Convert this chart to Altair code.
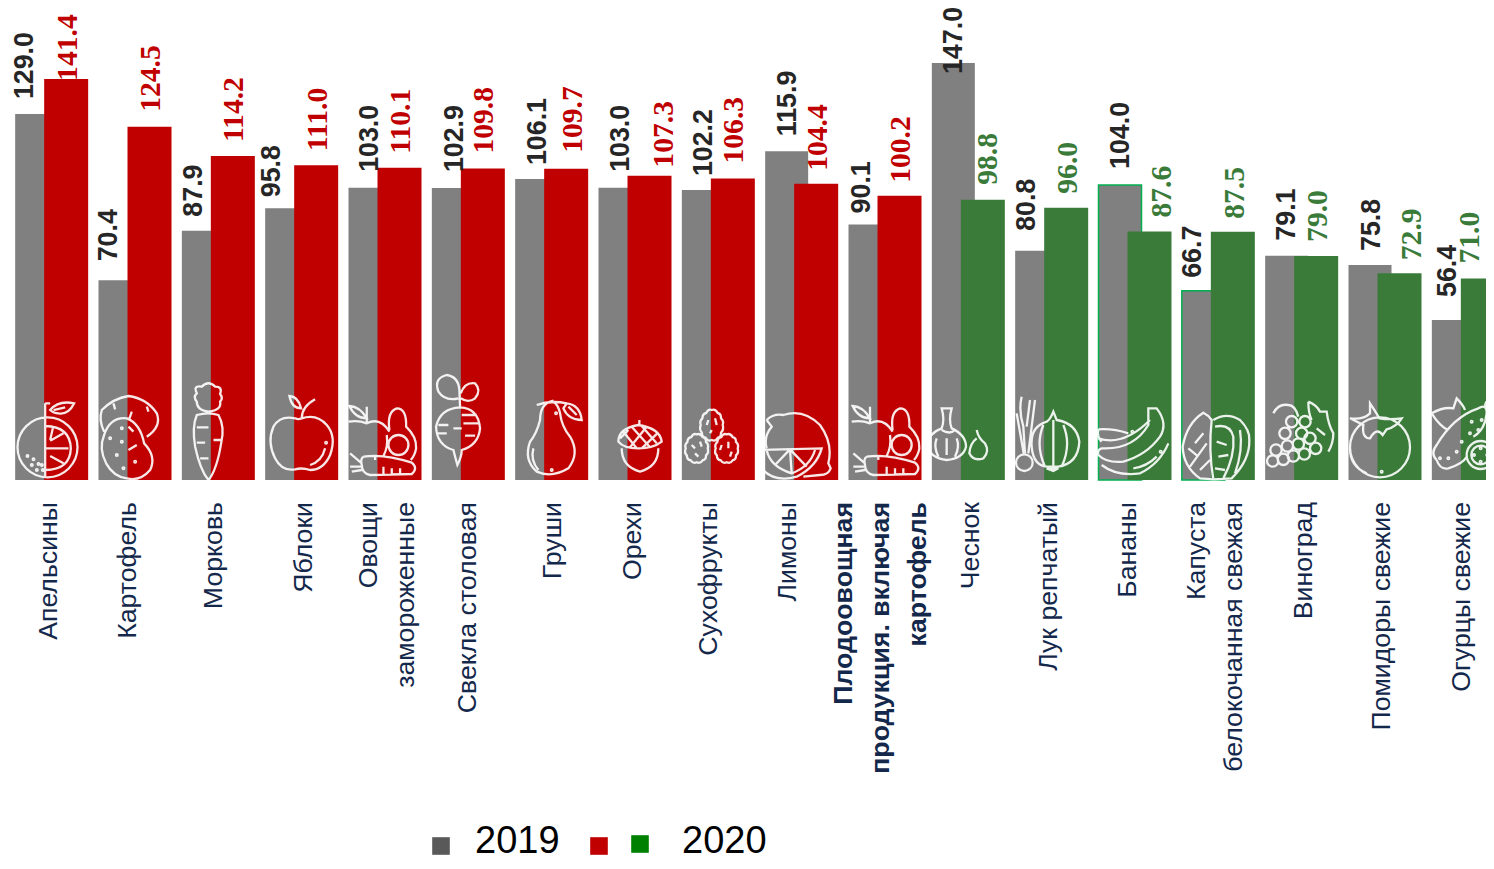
import re
import altair as alt
import pandas as pd

categories = ["Апельсины", "Картофель", "Морковь", "Яблоки", "Овощи|замороженные", "Свекла столовая",
              "Груши", "Орехи", "Сухофрукты", "Лимоны", "Плодоовощная|продукция. включая|картофель",
              "Чеснок", "Лук репчатый", "Бананы", "Капуста|белокочанная свежая", "Виноград",
              "Помидоры свежие", "Огурцы свежие"]
values_2019 = [129.0, 70.4, 87.9, 95.8, 103.0, 102.9, 106.1, 103.0, 102.2, 115.9, 90.1, 147.0, 80.8, 104.0, 66.7, 79.1, 75.8, 56.4]
values_2020 = [141.4, 124.5, 114.2, 111.0, 110.1, 109.8, 109.7, 107.3, 106.3, 104.4, 100.2, 98.8, 96.0, 87.6, 87.5, 79.0, 72.9, 71.0]
outlined_2019 = ["Бананы", "Капуста|белокочанная свежая"]
bold_category = "Плодоовощная|продукция. включая|картофель"

df = pd.DataFrame({"cat": categories, "v2019": values_2019, "v2020": values_2020})
df["l2019"] = df["v2019"].map(lambda v: f"{v:.1f}")
df["l2020"] = df["v2020"].map(lambda v: f"{v:.1f}")

# ---------- layout nudges (px), per category ----------
gray_dx = [-27, -26.5, -24.5, -30, -15.5, -13.5, -14, -14.5, -14.5, -14, -23.5, -14, -24.2, -14.5, -25, -14.25, -13.5, -20]
gray_gap = [15, 19, 14, 11, 16, 16, 14, 16, 14, 15, 11, -11, 20, 16, 13, 15, 14, 23]
new_dx = [16.5, 16, 16, 16.5, 16, 16, 21.5, 29, 15.7, 16.4, 16, 19.6, 16.3, 27, 16.6, 16.3, 27, 1.5]
new_gap = [-2, 15, 14, 14, 14, 15, 16, 8, 15, 13, 13, 15, 14, 14, 13, 14, 13, 15]
name_dx = [-2.5, -7, -4, 2.5, -16.5, 0, 1.4, -2, -9.3, -13.6, -41, 2.6, -2.7, -7, -20.9, 2.25, -3, -6.5]

GRAY, RED, GREEN = "#808080", "#C00000", "#3A7B3A"


# ---------- white outline glyphs, drawn in 1/3-px units around bar group centre / baseline ----------
def circ(x, y, r):
    k = 0.5523 * r
    return (f"M{x-r},{y} C{x-r},{y-k} {x-k},{y-r} {x},{y-r} C{x+k},{y-r} {x+r},{y-k} {x+r},{y} "
            f"C{x+r},{y+k} {x+k},{y+r} {x},{y+r} C{x-k},{y+r} {x-r},{y+k} {x-r},{y} Z ")


def dots(*pts):
    return "".join(circ(x, y, 2.5) for x, y in pts)


def blob(x, y, rx, ry):
    pts = [(0, -1), (.55, -.8), (.85, -.45), (1, 0), (.85, .5), (.55, .85), (0, 1), (-.55, .85), (-.9, .5), (-1, 0), (-.85, -.45), (-.5, -.8)]
    s = f"M{x},{y-ry} "
    for i in range(1, len(pts) + 1):
        a, b = pts[i % len(pts)]
        pa, pb = pts[i - 1]
        cx = x + (a + pa) / 2 * rx * 1.22
        cy = y + (b + pb) / 2 * ry * 1.22
        s += f"Q{cx:.1f},{cy:.1f} {x+a*rx:.1f},{y+b*ry:.1f} "
    return s + "Z "


def place(path, cx):
    return re.sub(r"(-?\d+\.?\d*),(-?\d+\.?\d*)",
                  lambda m: f"{float(m.group(1))-cx:.1f},{float(m.group(2))-330:.1f}", path)


ORANGE = (circ(142, 232, 90) + "M135,100 L135,322 M135,100 L150,100 M135,168 Q210,170 212,235 Q210,300 135,300 "
          "M135,235 L205,235 M150,212 L190,190 M150,258 L190,280 M158,175 L150,210 "
          "M150,120 Q175,90 222,100 Q205,135 175,130 Q160,130 150,120 Z M160,120 L195,112 "
          + dots((82, 258), (100, 268), (95, 285), (115, 282), (110, 300), (128, 300), (125, 285)))
POTATO = ("M312,185 Q295,150 305,120 Q340,85 385,78 Q440,85 470,130 Q485,170 440,200 "
          "M312,195 Q330,140 380,145 Q420,160 432,220 Q470,260 450,300 Q420,335 380,325 Q340,320 318,280 Q295,235 312,195 Z "
          "M340,100 L345,118 M395,125 L388,145 M440,110 L445,125 M385,170 L400,185 M385,240 L410,225 "
          + dots((365, 175), (330, 205), (365, 215), (350, 255), (405, 275), (370, 295)))
CARROT = ("M625,125 Q590,120 590,95 Q578,80 590,70 Q578,45 605,50 Q625,30 645,50 Q668,50 660,72 Q670,85 660,95 Q665,120 625,125 "
          "M590,135 Q575,170 585,230 Q600,300 625,330 Q650,300 663,220 Q675,170 655,135 Q625,125 590,135 Z "
          "M590,172 L625,172 M590,218 L615,218 M640,210 L665,210 M600,265 L625,265")
APPLE = ("M885,145 Q840,135 820,170 Q800,215 825,265 Q845,305 885,298 Q905,292 930,300 Q970,300 990,255 Q1010,200 980,165 Q950,130 905,145 Q895,150 885,145 Z "
         "M868,78 Q895,80 903,115 Q875,115 868,78 Z M905,145 Q905,110 945,88 M975,235 Q965,275 930,285 " + dots((978, 218)))
VEG = ("M1168,180 Q1160,125 1190,115 Q1220,115 1218,170 Q1250,200 1248,235 Q1245,255 1232,270 " + circ(1195, 225, 30) +
       "M1045,155 Q1075,150 1100,160 Q1140,140 1168,185 M1048,108 Q1080,110 1100,145 Q1065,145 1048,108 Z M1100,110 L1100,160 "
       "M1160,195 Q1165,230 1150,258 M1090,260 Q1150,250 1235,278 Q1255,295 1235,312 L1110,315 Q1085,310 1085,285 Q1080,265 1090,260 "
       "M1150,290 L1150,312 M1175,295 L1175,312 M1200,295 L1200,312 M1085,280 L1050,250 M1085,290 L1050,290 M1085,300 L1055,305 M1125,255 L1125,270")
TURNIP = ("M115,85 Q75,95 55,65 Q40,25 80,15 Q115,20 118,60 L120,110 M122,70 Q135,35 165,40 Q185,60 165,85 Q145,100 122,85 "
          "M120,112 Q60,115 48,170 Q50,225 100,240 Q105,260 112,285 Q125,260 125,240 Q175,225 180,175 Q175,115 120,112 Z "
          "M55,165 L85,165 M50,190 L80,190 M100,175 L125,175 M125,135 L170,135 M130,160 L175,160 M135,197 L165,197")
PEAR = ("M400,92 Q360,100 360,150 Q350,190 330,215 Q310,270 350,305 Q395,325 445,295 Q480,250 450,200 Q425,170 420,130 Q415,105 400,95 "
        "M350,105 Q390,90 440,100 M440,100 Q480,105 485,150 Q445,150 430,115 Z M445,110 L470,135 M340,235 Q330,270 355,300 " + dots((395, 300), (408, 130)))
ACORN = ("M595,215 Q595,175 655,165 Q720,175 725,215 Q700,235 655,235 Q610,235 595,215 Z M658,150 L658,165 "
         "M610,185 L650,235 M635,170 L690,232 M665,168 L710,220 M600,205 L625,180 M630,232 L680,170 M665,235 L712,190 "
         "M605,235 Q605,290 660,305 Q715,290 715,235")
DRIED = (blob(875, 165, 33, 45) + blob(830, 235, 33, 42) + blob(920, 235, 33, 42) +
         "M865,150 L860,165 M885,145 L890,165 M875,180 L870,190 M815,225 L825,235 M840,215 L845,230 M825,250 L835,260 "
         "M905,225 L900,240 M925,215 L925,235 M935,245 L930,260")
LEMON = ("M1040,150 Q1060,130 1090,135 Q1150,115 1200,165 Q1240,220 1225,280 L1232,295 Q1225,315 1200,315 L1150,320 "
         "M1040,150 L1055,170 Q1030,200 1040,235 M1010,240 L1205,235 Q1190,290 1130,320 Q1060,340 1020,290 Q1005,260 1010,240 Z "
         "M1040,240 Q1050,290 1115,310 Q1170,290 1185,240 M1110,238 L1065,285 M1110,238 L1115,310 M1110,238 L1160,290")
GARLIC = ("M305,115 L335,115 Q325,150 335,175 Q378,195 378,230 Q370,265 320,270 Q270,265 262,225 Q265,190 305,175 Q315,150 305,115 Z "
          "M290,205 Q280,230 295,260 M350,205 Q360,230 345,260 M320,205 L320,255 M305,180 Q330,195 345,180 "
          "M410,180 Q415,205 435,220 Q450,245 430,265 Q400,275 388,250 Q390,220 410,205")
ONION = ("M640,125 Q630,150 620,155 Q570,170 575,230 Q580,290 625,290 L655,290 Q715,280 718,215 Q710,160 650,150 Z "
         "M640,150 L640,290 M610,165 Q585,225 615,290 M670,165 Q695,225 665,290 "
         "M545,80 Q535,120 550,170 L555,250 M570,90 L560,170 M585,90 L565,250 M530,130 L552,255 M620,295 L655,295 L640,303 Z "
         + circ(553, 278, 25))
BANANA = ("M775,178 Q820,175 865,190 M775,178 Q770,200 785,215 "
          "M925,115 L950,115 Q985,160 960,200 Q920,255 850,275 Q800,280 775,255 Q770,240 785,235 Q880,240 925,165 Z "
          "M775,205 Q850,230 930,150 M785,285 Q830,320 900,310 Q960,280 985,220 M880,295 Q920,290 950,260 " + dots((877, 185), (962, 245)))
CABBAGE = ("M100,128 Q50,160 38,230 Q40,290 90,325 L130,328 Q115,240 125,150 Q115,135 100,128 Z "
           "M60,290 L110,220 M75,220 L100,190 M55,235 L85,260 M90,300 L120,270 "
           "M130,150 Q170,125 210,150 Q240,180 238,210 Q240,270 185,325 L130,328 M135,170 Q180,160 190,200 Q195,260 160,325 "
           "M140,215 L170,225 M145,260 L175,255 M135,295 L165,300 M210,180 Q220,240 195,310")
GRAPES = ("".join(circ(x, y, 17) for x, y in [(308, 273), (340, 268), (370, 258), (403, 252), (318, 240), (352, 228), (385, 222),
                                              (345, 190), (395, 190), (365, 155), (405, 155), (437, 235), (420, 205)]) +
          "M415,95 Q440,105 450,125 L470,125 Q475,165 490,190 Q490,220 475,245 M415,95 Q415,130 425,150 M440,175 L465,195 "
          "M310,130 Q325,100 355,105 Q375,105 385,140")
TOMATO = (circ(630, 232, 90) + "M600,100 Q620,130 628,145 Q660,150 695,145 Q680,170 650,178 L638,195 Q620,170 600,205 Q575,205 580,165 L540,145 Q580,150 600,130 Z "
          "M540,235 Q540,290 590,310 " + dots((635, 305)))
CUCUMBER = ("M800,270 Q780,250 800,225 Q850,140 925,115 Q950,100 950,130 Q945,180 910,200 M800,270 Q810,300 835,295 Q880,280 890,260 "
            + circ(932, 255, 42) + circ(932, 255, 28) +
            "M785,130 Q820,110 850,115 L860,85 Q880,105 885,120 M785,130 Q810,170 835,180 M945,115 Q945,100 950,95 " + circ(962, 98, 11)
            + dots((905, 155), (935, 150), (900, 190), (925, 180), (875, 215), (860, 245), (835, 265), (810, 265), (932, 235), (932, 275), (912, 255), (952, 255)))

glyphs = [place(ORANGE, 154.5), place(POTATO, 404.6), place(CARROT, 654.6), place(APPLE, 904.7), place(VEG, 1154.7),
          place(TURNIP, 144.75), place(PEAR, 394.8), place(ACORN, 644.9), place(DRIED, 894.9), place(LEMON, 1145),
          place(VEG, 1145), place(GARLIC, 385), place(ONION, 635), place(BANANA, 885),
          place(CABBAGE, 145), place(GRAPES, 395), place(TOMATO, 645), place(CUCUMBER, 895)]

# ---------- scales ----------
xs = alt.X("cat:N", sort=categories, axis=None,
           scale=alt.Scale(domain=categories, paddingInner=0, paddingOuter=0))
ys = alt.Scale(domain=[0, 166.4], nice=False, zero=True)
base = alt.Chart(df)

layers = [
    base.mark_bar(width=43, xOffset=-15, color=GRAY).encode(x=xs, y=alt.Y("v2019:Q", scale=ys, axis=None)),
    base.transform_filter(alt.FieldOneOfPredicate(field="cat", oneOf=outlined_2019))
        .mark_bar(width=43, xOffset=-15, color=GRAY, stroke="#00B050", strokeWidth=1.5)
        .encode(x=xs, y=alt.Y("v2019:Q", scale=ys, axis=None)),
    base.mark_bar(width=44, xOffset=14.5).encode(
        x=xs, y=alt.Y("v2020:Q", scale=ys, axis=None),
        color=alt.condition("datum.v2020 >= 100", alt.value(RED), alt.value(GREEN))),
]

for i, cat in enumerate(categories):
    one = base.transform_filter(alt.datum.cat == cat)
    layers.append(one.transform_calculate(zero="0").mark_point(shape=glyphs[i], size=0.4444, filled=False, stroke="white",
                                 strokeWidth=2.3, strokeOpacity=0.9, opacity=1)
                  .encode(x=xs, y=alt.Y("zero:Q", scale=ys, axis=None)))
    layers.append(one.mark_text(angle=270, align="left", baseline="middle", font="Liberation Sans", fontWeight="bold",
                                fontSize=26.8, color="#262626", dy=gray_dx[i], dx=gray_gap[i])
                  .encode(x=xs, y=alt.Y("v2019:Q", scale=ys, axis=None), text="l2019:N"))
    layers.append(one.mark_text(angle=270, align="left", baseline="middle", font="Liberation Serif", fontWeight="bold",
                                fontSize=29.6, color=RED if values_2020[i] >= 100 else GREEN, dy=new_dx[i], dx=new_gap[i])
                  .encode(x=xs, y=alt.Y("v2020:Q", scale=ys, axis=None), text="l2020:N"))
    layers.append(one.mark_text(angle=270, align="right", baseline="middle", font="Liberation Sans",
                                fontWeight="bold" if cat == bold_category else "normal",
                                fontSize=26.7, color="#14284B", lineBreak="|", lineHeight=37, dy=name_dx[i])
                  .encode(x=xs, y=alt.value(494), text="cat:N"))

legend_squares = [("#595959", 431, 838), (RED, 589, 838), ("#008000", 630, 836)]
for colour, px, py in legend_squares:
    layers.append(alt.Chart(pd.DataFrame({"k": [colour]})).mark_square(size=310, color=colour, opacity=1)
                  .encode(x=alt.value(px), y=alt.value(py)))
for txt, px in [("2019", 465), ("2020", 672)]:
    layers.append(alt.Chart(pd.DataFrame({"t": [txt]})).mark_text(align="left", baseline="alphabetic", font="Liberation Sans",
                                                                  fontSize=38, color="#000000")
                  .encode(x=alt.value(px), y=alt.value(845), text="t:N"))

chart = (alt.layer(*layers)
         .properties(width=1500, height=472, autosize="none", padding={"left": 2, "top": 0, "right": -24, "bottom": 381})
         .configure_view(stroke=None))

chart.save("out.html", embed_options={"renderer": "svg", "actions": False})
